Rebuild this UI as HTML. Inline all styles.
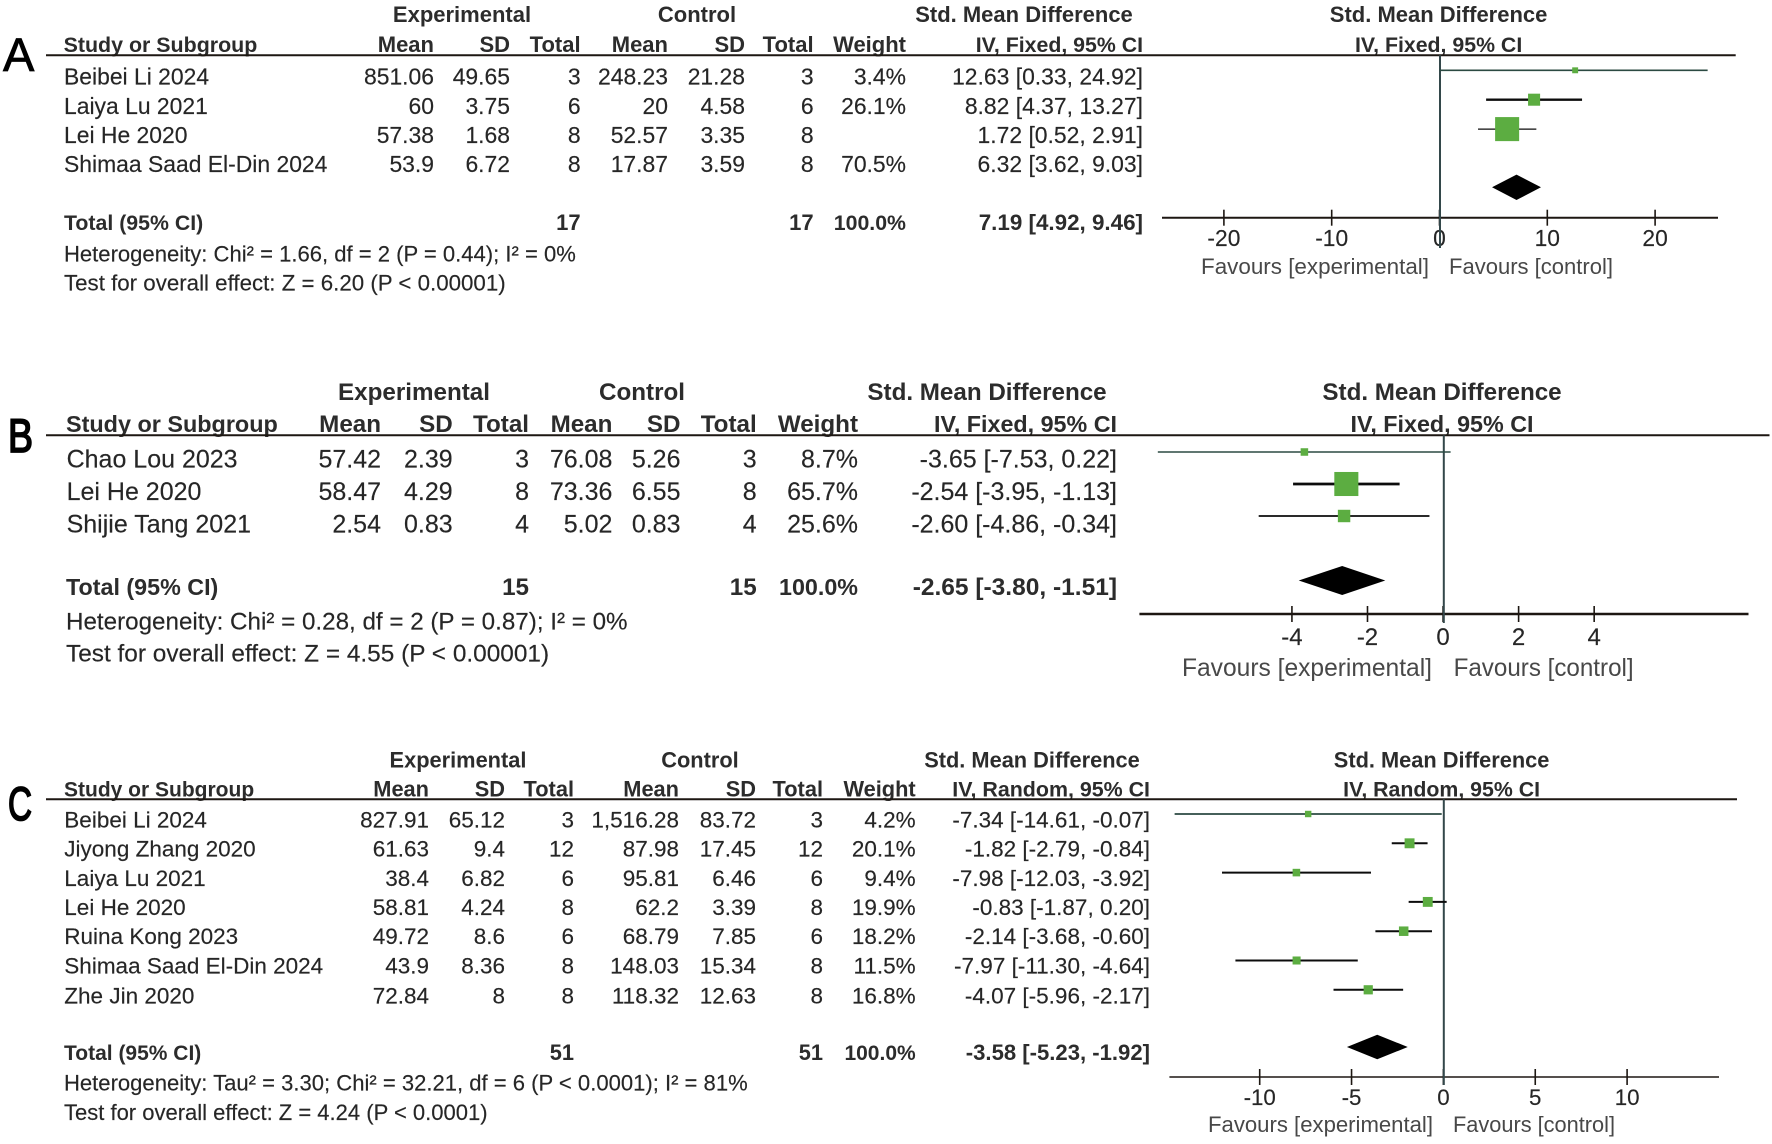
<!DOCTYPE html>
<html lang="en">
<head>
<meta charset="utf-8">
<title>Forest plots A, B and C</title>
<style>
html,body{margin:0;padding:0;background:#fff;}
svg{display:block;}
text{font-family:"Liberation Sans",Arial,sans-serif;fill:#262626;stroke:#262626;stroke-width:.15;}
.b{font-weight:700;fill:#2c2c2c;stroke:none;}
.e{text-anchor:end;}
.m{text-anchor:middle;}
.fav{fill:#484848;stroke:none;}
.letter{fill:#000;stroke:#000;stroke-width:.8;}
.letter-heavy{fill:#000;stroke:#000;stroke-width:1.8;}
</style>
</head>
<body>
<svg id="chart" xmlns="http://www.w3.org/2000/svg" width="1772" height="1144" viewBox="0 0 1772 1144">
<rect x="0" y="0" width="1772" height="1144" fill="#fff"/>

<g id="panelA">
<text class="letter" x="3" y="71" font-size="47">A</text>
<g font-size="22">
<text class="b m" x="462" y="22">Experimental</text>
<text class="b m" x="697" y="22">Control</text>
<text class="b m" x="1024" y="22">Std. Mean Difference</text>
<text class="b m" x="1438.6" y="22">Std. Mean Difference</text>
<text class="b" x="63.6" y="52" font-size="21.4">Study or Subgroup</text>
<text class="b e" x="434" y="52">Mean</text>
<text class="b e" x="510" y="52">SD</text>
<text class="b e" x="580.6" y="52">Total</text>
<text class="b e" x="668" y="52">Mean</text>
<text class="b e" x="745" y="52">SD</text>
<text class="b e" x="813.6" y="52">Total</text>
<text class="b e" x="906" y="52">Weight</text>
<text class="b e" x="1143" y="52" font-size="21.3">IV, Fixed, 95% CI</text>
<text class="b m" x="1438.6" y="52" font-size="21.3">IV, Fixed, 95% CI</text>
<text class="b" x="64" y="230" font-size="21.3">Total (95% CI)</text>
<text class="b e" x="580.6" y="230">17</text>
<text class="b e" x="813.6" y="230">17</text>
<text class="b e" x="906" y="230" font-size="21.3">100.0%</text>
<text class="b e" x="1143" y="230" font-size="22.4">7.19 [4.92, 9.46]</text>
</g>
<g>
<text x="64" y="261.7" font-size="22.05">Heterogeneity: Chi² = 1.66, df = 2 (P = 0.44); I² = 0%</text>
<text x="64" y="290.7" font-size="22.3">Test for overall effect: Z = 6.20 (P &lt; 0.00001)</text>
</g>
<g font-size="22.3">
<text class="fav" x="1201" y="274" textLength="228" lengthAdjust="spacingAndGlyphs">Favours [experimental]</text>
<text class="fav" x="1449" y="274" textLength="164" lengthAdjust="spacingAndGlyphs">Favours [control]</text>
</g>
</g>

<g id="panelB">
<text class="letter-heavy" x="8" y="452" font-size="47" textLength="25" lengthAdjust="spacingAndGlyphs">B</text>
<g font-size="24.2">
<text class="b m" x="414" y="400">Experimental</text>
<text class="b m" x="642" y="400">Control</text>
<text class="b m" x="987" y="400">Std. Mean Difference</text>
<text class="b m" x="1442" y="400">Std. Mean Difference</text>
<text class="b" x="66" y="432" font-size="23.4">Study or Subgroup</text>
<text class="b e" x="381" y="432">Mean</text>
<text class="b e" x="452.7" y="432">SD</text>
<text class="b e" x="529" y="432">Total</text>
<text class="b e" x="612.4" y="432">Mean</text>
<text class="b e" x="680.5" y="432">SD</text>
<text class="b e" x="756.7" y="432">Total</text>
<text class="b e" x="858" y="432">Weight</text>
<text class="b e" x="1117" y="432" font-size="23.3">IV, Fixed, 95% CI</text>
<text class="b m" x="1442" y="432" font-size="23.3">IV, Fixed, 95% CI</text>
<text class="b" x="66" y="595" font-size="23.3">Total (95% CI)</text>
<text class="b e" x="529" y="595">15</text>
<text class="b e" x="756.7" y="595">15</text>
<text class="b e" x="858" y="595" font-size="23.3">100.0%</text>
<text class="b e" x="1117" y="595" font-size="24.5">-2.65 [-3.80, -1.51]</text>
</g>
<g>
<text x="66" y="629.3" font-size="24.2">Heterogeneity: Chi² = 0.28, df = 2 (P = 0.87); I² = 0%</text>
<text x="66" y="661.7" font-size="24.4">Test for overall effect: Z = 4.55 (P &lt; 0.00001)</text>
</g>
<g font-size="24.6">
<text class="fav" x="1182" y="676" textLength="250" lengthAdjust="spacingAndGlyphs">Favours [experimental]</text>
<text class="fav" x="1453.6" y="676" textLength="180" lengthAdjust="spacingAndGlyphs">Favours [control]</text>
</g>
</g>

<g id="panelC">
<text class="letter-heavy" x="8" y="820" font-size="47" textLength="24" lengthAdjust="spacingAndGlyphs">C</text>
<g font-size="21.8">
<text class="b m" x="458" y="767.7">Experimental</text>
<text class="b m" x="700" y="767.7">Control</text>
<text class="b m" x="1032" y="767.7">Std. Mean Difference</text>
<text class="b m" x="1441.6" y="767.7">Std. Mean Difference</text>
<text class="b" x="64" y="796.7" font-size="21">Study or Subgroup</text>
<text class="b e" x="429" y="796.7">Mean</text>
<text class="b e" x="505" y="796.7">SD</text>
<text class="b e" x="574" y="796.7">Total</text>
<text class="b e" x="679" y="796.7">Mean</text>
<text class="b e" x="756" y="796.7">SD</text>
<text class="b e" x="823" y="796.7">Total</text>
<text class="b e" x="915.7" y="796.7">Weight</text>
<text class="b e" x="1150" y="796.7" font-size="21.4">IV, Random, 95% CI</text>
<text class="b m" x="1441.6" y="796.7" font-size="21.3">IV, Random, 95% CI</text>
<text class="b" x="64" y="1060" font-size="21">Total (95% CI)</text>
<text class="b e" x="574" y="1060">51</text>
<text class="b e" x="823" y="1060">51</text>
<text class="b e" x="915.7" y="1060" font-size="21">100.0%</text>
<text class="b e" x="1150" y="1060" font-size="22.1">-3.58 [-5.23, -1.92]</text>
</g>
<g>
<text x="64" y="1090.7" font-size="22.05">Heterogeneity: Tau² = 3.30; Chi² = 32.21, df = 6 (P &lt; 0.0001); I² = 81%</text>
<text x="64" y="1120" font-size="22">Test for overall effect: Z = 4.24 (P &lt; 0.0001)</text>
</g>
<g font-size="22.2">
<text class="fav" x="1208" y="1132" textLength="225" lengthAdjust="spacingAndGlyphs">Favours [experimental]</text>
<text class="fav" x="1453" y="1132" textLength="162" lengthAdjust="spacingAndGlyphs">Favours [control]</text>
</g>
</g>
</svg>

<script>
// ---- Panel A data ----
const aStudies = ["Beibei Li 2024", "Laiya Lu 2021", "Lei He 2020", "Shimaa Saad El-Din 2024"];
const aExpMean = ["851.06", "60", "57.38", "53.9"];
const aExpSd = ["49.65", "3.75", "1.68", "6.72"];
const aExpTotal = ["3", "6", "8", "8"];
const aCtlMean = ["248.23", "20", "52.57", "17.87"];
const aCtlSd = ["21.28", "4.58", "3.35", "3.59"];
const aCtlTotal = ["3", "6", "8", "8"];
const aWeightLabels = ["3.4%", "26.1%", "", "70.5%"];
const aCiLabels = ["12.63 [0.33, 24.92]", "8.82 [4.37, 13.27]", "1.72 [0.52, 2.91]", "6.32 [3.62, 9.03]"];
const aEffect = [12.63, 8.82, 6.32];
const aLow = [0.05, 4.37, 3.62];
const aHigh = [24.92, 13.27, 9.03];
const aWeight = [3.4, 26.1, 70.5];
const aPooled = [7.19, 4.92, 9.46];
const aTicks = [-20, -10, 0, 10, 20];

// ---- Panel B data ----
const bStudies = ["Chao Lou 2023", "Lei He 2020", "Shijie Tang 2021"];
const bExpMean = ["57.42", "58.47", "2.54"];
const bExpSd = ["2.39", "4.29", "0.83"];
const bExpTotal = ["3", "8", "4"];
const bCtlMean = ["76.08", "73.36", "5.02"];
const bCtlSd = ["5.26", "6.55", "0.83"];
const bCtlTotal = ["3", "8", "4"];
const bWeightLabels = ["8.7%", "65.7%", "25.6%"];
const bCiLabels = ["-3.65 [-7.53, 0.22]", "-2.54 [-3.95, -1.13]", "-2.60 [-4.86, -0.34]"];
const bEffect = [-3.65, -2.54, -2.60];
const bLow = [-7.53, -3.95, -4.86];
const bHigh = [0.22, -1.13, -0.34];
const bWeight = [8.7, 65.7, 25.6];
const bPooled = [-2.65, -3.80, -1.51];
const bTicks = [-4, -2, 0, 2, 4];

// ---- Panel C data ----
const cStudies = ["Beibei Li 2024", "Jiyong Zhang 2020", "Laiya Lu 2021", "Lei He 2020", "Ruina Kong 2023", "Shimaa Saad El-Din 2024", "Zhe Jin 2020"];
const cExpMean = ["827.91", "61.63", "38.4", "58.81", "49.72", "43.9", "72.84"];
const cExpSd = ["65.12", "9.4", "6.82", "4.24", "8.6", "8.36", "8"];
const cExpTotal = ["3", "12", "6", "8", "6", "8", "8"];
const cCtlMean = ["1,516.28", "87.98", "95.81", "62.2", "68.79", "148.03", "118.32"];
const cCtlSd = ["83.72", "17.45", "6.46", "3.39", "7.85", "15.34", "12.63"];
const cCtlTotal = ["3", "12", "6", "8", "6", "8", "8"];
const cWeightLabels = ["4.2%", "20.1%", "9.4%", "19.9%", "18.2%", "11.5%", "16.8%"];
const cCiLabels = ["-7.34 [-14.61, -0.07]", "-1.82 [-2.79, -0.84]", "-7.98 [-12.03, -3.92]", "-0.83 [-1.87, 0.20]", "-2.14 [-3.68, -0.60]", "-7.97 [-11.30, -4.64]", "-4.07 [-5.96, -2.17]"];
const cEffect = [-7.34, -1.82, -7.98, -0.83, -2.14, -7.97, -4.07];
const cLow = [-14.61, -2.79, -12.03, -1.87, -3.68, -11.30, -5.96];
const cHigh = [-0.07, -0.84, -3.92, 0.20, -0.60, -4.64, -2.17];
const cWeight = [4.2, 20.1, 9.4, 19.9, 18.2, 11.5, 16.8];
const cPooled = [-3.58, -5.23, -1.92];
const cTicks = [-10, -5, 0, 5, 10];

const NS = "http://www.w3.org/2000/svg";

function makeEl(parent, tag, attrs) {
  const el = document.createElementNS(NS, tag);
  for (const k in attrs) el.setAttribute(k, attrs[k]);
  parent.appendChild(el);
  return el;
}

function cellText(parent, name, x, y, str, size, anchor) {
  const el = makeEl(parent, "text", {x: x, y: y, "font-size": size, "text-anchor": anchor});
  
  
  el.textContent = str;
}

function drawPanel(p) {
  const root = document.getElementById(p.id);
  const xScale = v => p.zeroX + v * p.unit;
  const yScale = i => p.markFirstY + i * p.markStep;
  const sizeScale = w => p.sizeBase + p.sizeSlope * w;

  const rule = makeEl(root, "line", {x1: 46, x2: p.ruleEnd, y1: p.ruleY, y2: p.ruleY, stroke: "#1d1712", "stroke-width": 2});
  
  

  // table rows
  p.studies.forEach((s, i) => {
    const y = p.rowBase[i];
    cellText(root, 'study-name', p.studyX, y, s, p.fs, "start");
    cellText(root, 'exp-mean', p.cols[0], y, p.expMean[i], p.fs, "end");
    cellText(root, 'exp-sd', p.cols[1], y, p.expSd[i], p.fs, "end");
    cellText(root, 'exp-total', p.cols[2], y, p.expTotal[i], p.fs, "end");
    cellText(root, 'ctl-mean', p.cols[3], y, p.ctlMean[i], p.fs, "end");
    cellText(root, 'ctl-sd', p.cols[4], y, p.ctlSd[i], p.fs, "end");
    cellText(root, 'ctl-total', p.cols[5], y, p.ctlTotal[i], p.fs, "end");
    cellText(root, 'weight-value', p.cols[6], y, p.weightLabels[i], p.fs, "end");
    cellText(root, 'ci-value', p.cols[7], y, p.ciLabels[i], p.fs, "end");
  });

  // axis
  const axis = makeEl(root, "line", {x1: p.axisStart, x2: p.axisEnd, y1: p.axisY, y2: p.axisY, stroke: "#1d1712", "stroke-width": p.axisW});
  
  

  p.ticks.forEach(t => {
    const tick = makeEl(root, "line", {x1: xScale(t) + p.nullOffset / 2, x2: xScale(t) + p.nullOffset / 2, y1: p.axisY - 8, y2: p.axisY + 8, stroke: "#1d1712", "stroke-width": 1.6});
    
    
    cellText(root, 'x-axis-tick-label', xScale(t) + p.nullOffset / 2, p.tickBase, String(t), p.tickFs, "middle");
  });

  // null line
  const nullX = xScale(0) + p.nullOffset;
  const nullLine = makeEl(root, "line", {x1: nullX, x2: nullX, y1: p.ruleY, y2: p.nullEnd, stroke: "#33474a", "stroke-width": 2});
  
  

  // study marks
  p.effect.forEach((v, i) => {
    const y = yScale(i);
    const w = p.weight[i];
    const thin = i === 0 && w < 10;
    const ci = makeEl(root, "line", {x1: xScale(p.low[i]), x2: xScale(p.high[i]), y1: y, y2: y, stroke: thin ? "#2b4a42" : "#0c0c0c", "stroke-width": p.ciWidths[i]});
    
    
    const size = sizeScale(w);
    const box = makeEl(root, "rect", {x: xScale(v) - size / 2, y: y - size / 2, width: size, height: size, fill: "#5cad41"});
    
    
  });

  // pooled diamond
  const left = xScale(p.pooled[1]), right = xScale(p.pooled[2]), mid = xScale(p.pooled[0]);
  const d = makeEl(root, "polygon", {points: left + "," + p.diamondY + " " + mid + "," + (p.diamondY - p.diamondH) + " " + right + "," + p.diamondY + " " + mid + "," + (p.diamondY + p.diamondH), fill: "#000"});
  
  
}

drawPanel({
  id: "panelA", studies: aStudies, expMean: aExpMean, expSd: aExpSd, expTotal: aExpTotal,
  ctlMean: aCtlMean, ctlSd: aCtlSd, ctlTotal: aCtlTotal, weightLabels: aWeightLabels, ciLabels: aCiLabels,
  effect: aEffect, low: aLow, high: aHigh, weight: aWeight, pooled: aPooled, ticks: aTicks,
  zeroX: 1439, unit: 10.78, nullOffset: 1, markFirstY: 70.3, markStep: 29.4, sizeBase: 5, sizeSlope: 0.27,
  ciWidths: [1.6, 2.3, 1.3],
  studyX: 64, cols: [434, 510, 580.6, 668, 745, 813.6, 906, 1143], fs: 22.9,
  rowBase: [84.3, 113.8, 142.8, 172.2], ruleY: 55.3, ruleEnd: 1735.7,
  axisStart: 1162, axisEnd: 1718, axisY: 217.7, axisW: 2, tickBase: 246, tickFs: 22.8, nullEnd: 248,
  diamondY: 187.3, diamondH: 12.7
});
drawPanel({
  id: "panelB", studies: bStudies, expMean: bExpMean, expSd: bExpSd, expTotal: bExpTotal,
  ctlMean: bCtlMean, ctlSd: bCtlSd, ctlTotal: bCtlTotal, weightLabels: bWeightLabels, ciLabels: bCiLabels,
  effect: bEffect, low: bLow, high: bHigh, weight: bWeight, pooled: bPooled, ticks: bTicks,
  zeroX: 1442.3, unit: 37.78, nullOffset: 1.5, markFirstY: 452, markStep: 32, sizeBase: 5, sizeSlope: 0.29,
  ciWidths: [1.5, 2.8, 1.8],
  studyX: 66.6, cols: [381, 452.7, 529, 612.4, 680.5, 756.7, 858, 1117], fs: 25,
  rowBase: [467.3, 500, 532.3], ruleY: 435.3, ruleEnd: 1769.5,
  axisStart: 1139.4, axisEnd: 1748.5, axisY: 614, axisW: 2.4, tickBase: 645, tickFs: 24, nullEnd: 623,
  diamondY: 580.5, diamondH: 14.5
});
drawPanel({
  id: "panelC", studies: cStudies, expMean: cExpMean, expSd: cExpSd, expTotal: cExpTotal,
  ctlMean: cCtlMean, ctlSd: cCtlSd, ctlTotal: cCtlTotal, weightLabels: cWeightLabels, ciLabels: cCiLabels,
  effect: cEffect, low: cLow, high: cHigh, weight: cWeight, pooled: cPooled, ticks: cTicks,
  zeroX: 1443, unit: 18.37, nullOffset: 0.8, markFirstY: 814, markStep: 29.3, sizeBase: 5.5, sizeSlope: 0.22,
  ciWidths: [1.8, 2, 2, 2, 2, 2, 2],
  studyX: 64.3, cols: [429, 505, 574, 679, 756, 823, 915.7, 1150], fs: 22.5,
  rowBase: [827.7, 856.7, 886, 915, 944, 973.3, 1003.3], ruleY: 799.3, ruleEnd: 1737,
  axisStart: 1169.4, axisEnd: 1719, axisY: 1077, axisW: 1.4, tickBase: 1105, tickFs: 22.3, nullEnd: 1085,
  diamondY: 1047, diamondH: 12.3
});
</script>
</body>
</html>
